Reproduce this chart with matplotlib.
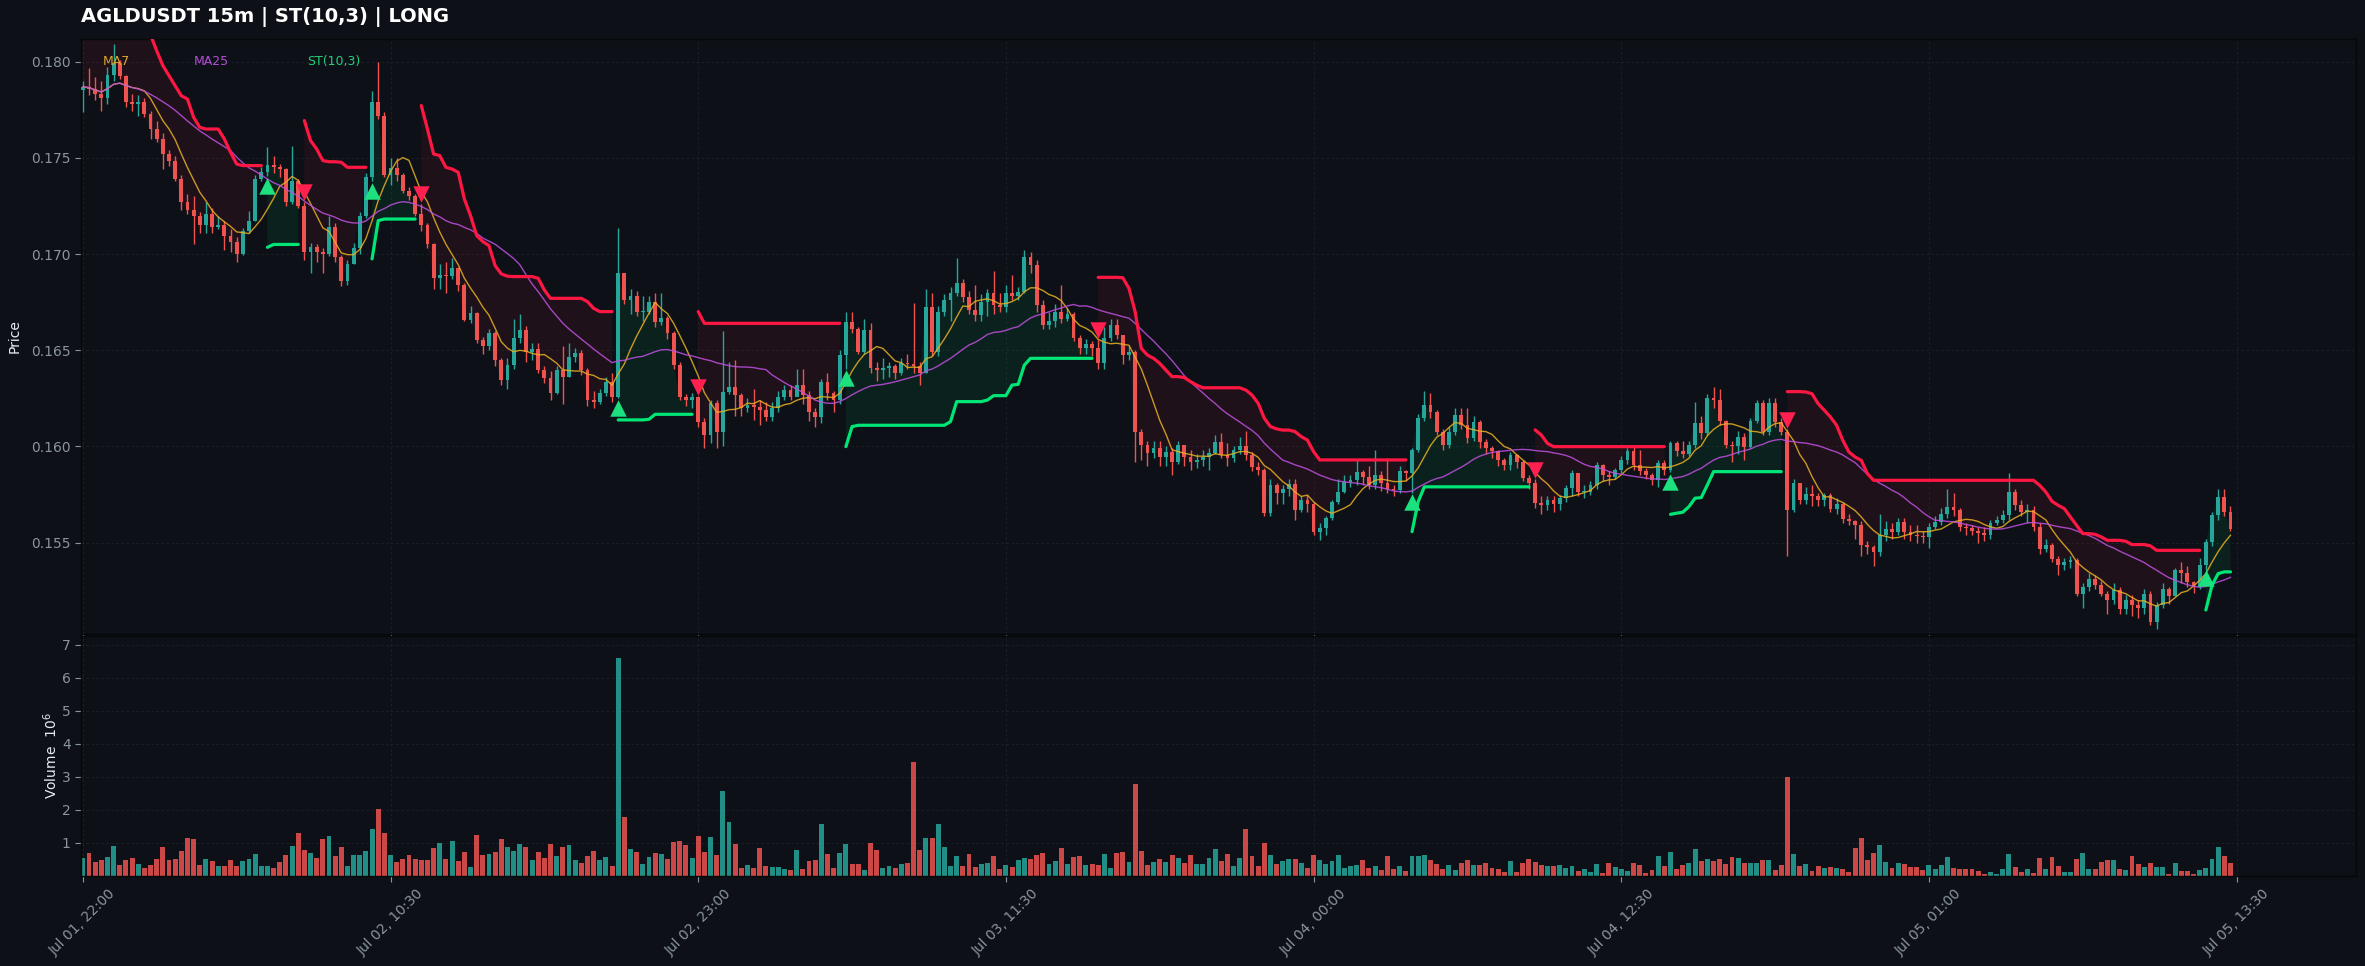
import numpy as np
import pandas as pd
import matplotlib
matplotlib.use("Agg")
import matplotlib.pyplot as plt
from matplotlib.ticker import FormatStrFormatter

TITLE = "AGLDUSDT 15m | ST(10,3) | LONG"
PRICE_UNIT = 1e-5  # prices below are stored in units of 0.00001 USDT

tick_positions = [0, 50, 100, 150, 200, 250, 300, 350]
tick_labels = ["Jul 01, 22:00", "Jul 02, 10:30", "Jul 02, 23:00", "Jul 03, 11:30",
               "Jul 04, 00:00", "Jul 04, 12:30", "Jul 05, 01:00", "Jul 05, 13:30"]

opens = [
    17855,17870,17860,17830,17810,17930,17995,17925,17790,17780,
    17792,17728,17650,17598,17520,17486,17390,17273,17230,17200,
    17150,17208,17139,17150,17096,17064,17000,17122,17174,17390,
    17425,17463,17455,17440,17270,17380,17250,17010,17035,17010,
    17000,17140,16985,16860,16950,17030,17200,17400,17790,17720,
    17410,17450,17410,17330,17300,17210,17150,17050,16874,16890,
    16885,16925,16840,16657,16692,16553,16520,16588,16450,16346,
    16425,16562,16605,16493,16505,16398,16355,16276,16397,16363,
    16467,16488,16398,16242,16230,16276,16337,16259,16900,16761,
    16780,16700,16700,16750,16649,16670,16588,16424,16259,16240,
    16256,16129,16060,16224,16077,16285,16307,16268,16198,16215,
    16206,16190,16155,16200,16259,16294,16259,16320,16268,16181,
    16155,16337,16276,16240,16476,16649,16610,16493,16606,16406,
    16395,16410,16420,16380,16432,16430,16420,16380,16727,16493,
    16700,16761,16800,16848,16779,16709,16683,16753,16796,16735,
    16727,16796,16780,16805,16986,16943,16735,16631,16650,16700,
    16660,16690,16562,16510,16530,16510,16432,16562,16631,16580,
    16475,16490,16077,16007,15965,15990,15947,15973,15921,16008,
    15947,15921,15930,15946,15964,16025,15955,15938,15982,16000,
    15955,15895,15877,15652,15800,15760,15777,15803,15670,15720,
    15700,15557,15577,15627,15712,15765,15817,15827,15869,15840,
    15800,15850,15808,15780,15775,15870,15860,15982,16147,16216,
    16181,16077,16008,16077,16164,16112,16042,16129,16025,15990,
    15975,15930,15905,15955,15920,15835,15809,15705,15695,15720,
    15700,15730,15783,15860,15762,15765,15800,15905,15852,15840,
    15875,15930,15975,15905,15870,15852,15825,15912,15878,16016,
    15975,15960,16005,16120,16070,16250,16240,16130,16008,16000,
    16050,15995,16130,16225,16077,16225,16129,16077,15670,15810,
    15722,15755,15740,15720,15745,15677,15700,15625,15612,15590,
    15486,15475,15452,15538,15573,15555,15607,15555,15540,15535,
    15530,15580,15607,15650,15685,15668,15581,15577,15560,15548,
    15540,15600,15617,15642,15763,15694,15660,15670,15582,15469,
    15487,15417,15382,15400,15410,15235,15270,15313,15280,15235,
    15200,15255,15157,15200,15175,15160,15235,15088,15175,15260,
    15225,15357,15340,15296,15270,15382,15504,15642,15738,15660,
]

highs = [
    17900,17965,17920,17900,17970,18090,18010,17930,17830,17825,
    17810,17745,17690,17630,17540,17510,17410,17310,17300,17220,
    17270,17240,17200,17170,17130,17090,17135,17225,17410,17455,
    17555,17510,17470,17450,17560,17390,17270,17060,17050,17030,
    17200,17160,16995,16970,17060,17220,17420,17850,18000,17740,
    17500,17500,17420,17350,17310,17260,17160,17060,16950,16960,
    16980,16935,16850,16730,16700,16570,16610,16600,16460,16460,
    16660,16690,16625,16540,16540,16420,16390,16420,16520,16540,
    16510,16500,16410,16290,16300,16360,16380,17134,16900,16820,
    16810,16780,16780,16800,16800,16680,16600,16440,16270,16280,
    16260,16150,16240,16240,16600,16440,16450,16280,16250,16300,
    16240,16230,16230,16290,16320,16320,16400,16400,16290,16200,
    16350,16380,16290,16500,16700,16700,16620,16660,16640,16440,
    16460,16440,16430,16460,16480,16745,16440,16820,16800,16730,
    16790,16830,16980,16870,16810,16840,16790,16820,16910,16800,
    16840,16890,16830,17020,17010,16970,16760,16700,16740,16840,
    16720,16700,16580,16560,16550,16555,16620,16660,16660,16580,
    16520,16500,16090,16030,16030,16030,16000,15990,16030,16010,
    15980,15960,15980,15990,16060,16070,16020,16000,16050,16080,
    15970,15920,15890,15830,15810,15800,15830,15830,15740,15750,
    15710,15600,15640,15720,15830,15850,15850,15930,15880,15900,
    15980,15870,15940,15800,15900,15880,15990,16170,16290,16280,
    16190,16090,16100,16200,16200,16200,16160,16140,16040,16000,
    15980,15940,15970,15960,15930,15850,15830,15740,15740,15740,
    15750,15800,15880,15860,15800,15820,15920,15910,15870,15890,
    15950,15990,16010,15980,15890,15860,15930,15930,16030,16030,
    16030,16030,16230,16160,16270,16310,16300,16140,16030,16080,
    16070,16150,16240,16240,16250,16250,16150,16090,15830,15810,
    15790,15800,15760,15760,15760,15730,15710,15650,15620,15610,
    15510,15490,15650,15610,15600,15630,15630,15590,15590,15560,
    15600,15640,15680,15780,15760,15680,15600,15590,15580,15580,
    15620,15640,15670,15860,15780,15720,15700,15690,15600,15520,
    15500,15430,15420,15430,15420,15290,15340,15330,15300,15250,
    15290,15270,15230,15230,15200,15260,15250,15190,15290,15270,
    15370,15400,15380,15300,15420,15520,15660,15780,15780,15690,
]

lows = [
    17740,17825,17800,17745,17780,17900,17910,17765,17745,17720,
    17710,17600,17580,17440,17460,17380,17230,17210,17050,17110,
    17110,17110,17130,17020,17010,16960,16995,17110,17170,17380,
    17408,17420,17400,17250,17260,17240,16970,16900,16960,16900,
    16990,16960,16835,16840,16950,17000,17190,17380,17700,17400,
    17360,17380,17320,17280,17200,17120,17030,16820,16820,16800,
    16870,16810,16650,16640,16540,16480,16500,16420,16320,16300,
    16400,16540,16440,16450,16380,16330,16240,16270,16220,16360,
    16440,16370,16210,16200,16220,16260,16230,16250,16740,16690,
    16680,16650,16690,16620,16630,16560,16400,16240,16210,16200,
    16100,15990,16020,15990,16000,16270,16160,16160,16180,16140,
    16110,16130,16130,16180,16240,16240,16260,16220,16130,16100,
    16120,16240,16180,16220,16405,16590,16480,16480,16380,16340,
    16350,16360,16350,16370,16400,16380,16320,16380,16470,16470,
    16680,16650,16780,16750,16690,16650,16650,16680,16690,16700,
    16700,16760,16760,16800,16900,16700,16610,16610,16620,16640,
    16650,16550,16480,16480,16470,16400,16400,16550,16560,16430,
    16450,15920,15930,15900,15940,15900,15900,15850,15910,15900,
    15880,15890,15900,15880,15960,15940,15900,15920,15960,15930,
    15870,15850,15640,15640,15700,15700,15740,15620,15660,15660,
    15540,15514,15540,15620,15700,15760,15790,15800,15800,15780,
    15780,15770,15760,15740,15760,15820,15760,15970,16130,16150,
    16060,15980,15990,16060,16090,16020,16030,15990,15960,15940,
    15900,15880,15880,15890,15820,15780,15680,15650,15670,15660,
    15670,15710,15740,15740,15730,15750,15780,15820,15800,15830,
    15860,15910,15880,15850,15830,15800,15790,15850,15865,15950,
    15940,15950,15990,16040,16060,16200,16110,15990,15920,15960,
    15930,15990,16120,16060,16060,16100,16060,15430,15660,15700,
    15700,15690,15690,15690,15660,15650,15600,15590,15520,15430,
    15440,15380,15430,15510,15520,15540,15520,15510,15500,15500,
    15470,15570,15590,15630,15640,15560,15540,15540,15500,15510,
    15520,15590,15600,15620,15670,15640,15600,15560,15440,15450,
    15400,15330,15360,15370,15220,15160,15250,15260,15220,15130,
    15180,15130,15130,15120,15110,15130,15070,15050,15160,15180,
    15220,15290,15270,15240,15260,15360,15480,15620,15640,15560,
]

closes = [
    17870,17860,17830,17810,17930,17995,17925,17790,17780,17792,
    17728,17650,17598,17520,17486,17390,17273,17230,17200,17150,
    17208,17139,17150,17096,17064,17000,17122,17174,17390,17425,
    17463,17455,17440,17270,17380,17250,17010,17035,17010,17000,
    17140,16985,16860,16950,17030,17200,17400,17790,17720,17410,
    17450,17410,17330,17300,17210,17150,17050,16874,16890,16885,
    16925,16840,16657,16692,16553,16520,16588,16450,16346,16425,
    16562,16605,16493,16505,16398,16355,16276,16397,16363,16467,
    16488,16398,16242,16230,16276,16337,16259,16900,16761,16780,
    16700,16700,16750,16649,16670,16588,16424,16259,16240,16256,
    16129,16060,16224,16077,16285,16307,16268,16198,16215,16206,
    16190,16155,16200,16259,16294,16259,16320,16268,16181,16155,
    16337,16276,16240,16476,16649,16610,16493,16606,16406,16395,
    16410,16420,16380,16432,16430,16420,16380,16727,16493,16700,
    16761,16800,16848,16779,16709,16683,16753,16796,16735,16727,
    16796,16780,16805,16986,16943,16735,16631,16650,16700,16660,
    16690,16562,16510,16530,16510,16432,16562,16631,16580,16475,
    16490,16077,16007,15965,15990,15947,15973,15921,16008,15947,
    15921,15930,15946,15964,16025,15955,15938,15982,16000,15955,
    15895,15877,15652,15800,15760,15777,15803,15670,15720,15700,
    15557,15577,15627,15712,15765,15817,15827,15869,15840,15800,
    15850,15808,15780,15775,15870,15860,15982,16147,16216,16181,
    16077,16008,16077,16164,16112,16042,16129,16025,15990,15975,
    15930,15905,15955,15920,15835,15809,15705,15695,15720,15700,
    15730,15783,15860,15762,15765,15800,15905,15852,15840,15875,
    15930,15975,15905,15870,15852,15825,15912,15878,16016,15975,
    15960,16005,16120,16070,16250,16240,16130,16008,16000,16050,
    15995,16130,16225,16077,16225,16129,16077,15670,15810,15722,
    15755,15740,15720,15745,15677,15700,15625,15612,15590,15486,
    15475,15452,15538,15573,15555,15607,15555,15540,15535,15530,
    15580,15607,15650,15685,15668,15581,15577,15560,15548,15540,
    15600,15617,15642,15763,15694,15660,15670,15582,15469,15487,
    15417,15382,15400,15410,15235,15270,15313,15280,15235,15200,
    15255,15157,15200,15175,15160,15235,15088,15175,15260,15225,
    15357,15340,15296,15270,15382,15504,15642,15738,15660,15573,
]

# SuperTrend(10,3) line as drawn (same price units)
supertrend = [
    18400,18400,18400,18380,18380,18360,18340,18320,18300,18260,
    18200,18140,18057,17980,17927,17875,17823,17806,17711,17659,
    17650,17650,17650,17598,17529,17468,17460,17460,17460,17460,
    17035,17050,17050,17050,17050,17050,17694,17590,17546,17486,
    17480,17480,17477,17451,17451,17451,17451,16975,17174,17182,
    17182,17182,17182,17182,17182,17772,17650,17520,17512,17451,
    17442,17425,17286,17200,17096,17065,17044,16940,16897,16885,
    16883,16883,16883,16883,16874,16813,16770,16770,16770,16770,
    16770,16770,16753,16718,16701,16701,16701,16138,16138,16138,
    16138,16138,16141,16167,16167,16167,16167,16167,16167,16167,
    16701,16640,16640,16640,16640,16640,16640,16640,16640,16640,
    16640,16640,16640,16640,16640,16640,16640,16640,16640,16640,
    16640,16640,16640,16640,15999,16103,16110,16110,16110,16110,
    16110,16110,16110,16110,16110,16110,16110,16110,16110,16110,
    16110,16129,16233,16233,16233,16233,16233,16241,16264,16264,
    16264,16319,16323,16423,16458,16458,16458,16458,16458,16458,
    16458,16458,16458,16458,16458,16879,16879,16879,16879,16877,
    16822,16701,16510,16475,16458,16432,16397,16363,16363,16358,
    16337,16319,16305,16305,16305,16305,16305,16305,16305,16293,
    16267,16224,16146,16103,16091,16085,16085,16077,16051,16033,
    15973,15930,15930,15930,15930,15930,15930,15930,15930,15930,
    15930,15930,15930,15930,15930,15930,15557,15713,15790,15790,
    15790,15790,15790,15790,15790,15790,15790,15790,15790,15790,
    15790,15790,15790,15790,15790,15790,16086,16060,16016,15999,
    15999,15999,15999,15999,15999,15999,15999,15999,15999,15999,
    15999,15999,15999,15999,15999,15999,15999,15999,15647,15653,
    15658,15687,15731,15734,15800,15869,15869,15869,15869,15869,
    15869,15869,15869,15869,15869,15869,15869,16285,16285,16285,
    16283,16274,16222,16188,16153,16110,16032,15971,15945,15928,
    15859,15824,15824,15824,15824,15824,15824,15824,15824,15824,
    15824,15824,15824,15824,15824,15824,15824,15824,15824,15824,
    15824,15824,15824,15824,15824,15824,15824,15824,15798,15763,
    15715,15694,15677,15633,15590,15547,15547,15543,15530,15512,
    15512,15512,15507,15490,15490,15490,15483,15460,15460,15460,
    15460,15460,15460,15460,15460,15150,15278,15339,15348,15348,
]

# volume in millions
volumes = [
    0.55,0.70,0.43,0.48,0.58,0.92,0.33,0.48,0.55,0.36,
    0.25,0.33,0.51,0.89,0.48,0.51,0.76,1.16,1.12,0.33,
    0.51,0.45,0.30,0.30,0.49,0.30,0.46,0.51,0.67,0.30,
    0.30,0.25,0.43,0.63,0.92,1.31,0.79,0.70,0.55,1.12,
    1.22,0.61,0.88,0.30,0.63,0.63,0.76,1.42,2.02,1.31,
    0.63,0.43,0.51,0.63,0.51,0.48,0.48,0.86,1.01,0.51,
    1.07,0.45,0.74,0.28,1.24,0.63,0.66,0.72,1.12,0.88,
    0.77,0.97,0.88,0.49,0.74,0.55,0.98,0.61,0.88,0.94,
    0.48,0.40,0.60,0.76,0.48,0.58,0.30,6.60,1.78,0.82,
    0.74,0.36,0.58,0.70,0.67,0.51,1.04,1.07,0.94,0.55,
    1.22,0.74,1.19,0.63,2.58,1.64,0.98,0.25,0.33,0.23,
    0.86,0.30,0.27,0.28,0.20,0.17,0.78,0.22,0.44,0.49,
    1.56,0.68,0.25,0.71,0.96,0.35,0.37,0.17,1.01,0.78,
    0.25,0.29,0.25,0.37,0.40,3.46,0.78,1.16,1.16,1.58,
    0.88,0.30,0.61,0.30,0.68,0.27,0.37,0.40,0.59,0.22,
    0.34,0.27,0.47,0.55,0.52,0.65,0.71,0.37,0.44,0.86,
    0.35,0.57,0.61,0.34,0.37,0.34,0.68,0.25,0.71,0.73,
    0.42,2.79,0.76,0.34,0.42,0.52,0.42,0.65,0.55,0.40,
    0.65,0.37,0.37,0.55,0.81,0.44,0.68,0.29,0.55,1.43,
    0.61,0.30,1.01,0.65,0.37,0.44,0.52,0.52,0.40,0.25,
    0.65,0.49,0.37,0.44,0.65,0.25,0.29,0.32,0.47,0.25,
    0.29,0.19,0.59,0.22,0.30,0.16,0.59,0.59,0.65,0.47,
    0.35,0.22,0.32,0.19,0.40,0.47,0.34,0.32,0.40,0.25,
    0.22,0.12,0.44,0.12,0.40,0.50,0.42,0.34,0.30,0.29,
    0.33,0.25,0.29,0.16,0.20,0.12,0.35,0.10,0.39,0.27,
    0.20,0.14,0.39,0.32,0.10,0.17,0.62,0.29,0.73,0.22,
    0.32,0.39,0.81,0.45,0.50,0.44,0.50,0.35,0.57,0.54,
    0.39,0.39,0.39,0.47,0.47,0.17,0.32,2.99,0.67,0.29,
    0.35,0.14,0.29,0.24,0.27,0.24,0.22,0.12,0.85,1.15,
    0.47,0.70,0.95,0.42,0.24,0.39,0.35,0.27,0.27,0.17,
    0.32,0.20,0.32,0.57,0.25,0.20,0.20,0.20,0.14,0.05,
    0.12,0.05,0.20,0.67,0.26,0.12,0.22,0.10,0.54,0.20,
    0.57,0.29,0.12,0.12,0.50,0.70,0.20,0.20,0.42,0.47,
    0.47,0.22,0.17,0.59,0.35,0.27,0.39,0.27,0.27,0.07,
    0.39,0.14,0.14,0.05,0.17,0.24,0.50,0.87,0.59,0.39,
]

# ---------------------------------------------------------------- styling
BG = "#0d1117"
UP_C = "#26a69a"
DN_C = "#ef5350"
ST_UP_C = "#00e676"
ST_DN_C = "#ff1744"
MA7_C = "#e8b023"
MA25_C = "#c050e0"
TXT = "#8b949e"

o = np.array(opens) * PRICE_UNIT
h = np.array(highs) * PRICE_UNIT
l = np.array(lows) * PRICE_UNIT
c = np.array(closes) * PRICE_UNIT
st = np.array(supertrend) * PRICE_UNIT
v = np.array(volumes)
n = len(c)
x = np.arange(n)

W, H = 2365, 966
fig = plt.figure(figsize=(W / 100, H / 100), dpi=100, facecolor=BG)
ax = fig.add_axes([81 / W, 1 - 634 / H, 2275 / W, 595 / H])
axv = fig.add_axes([81 / W, 1 - 876 / H, 2275 / W, 240 / H], sharex=ax)

for a in (ax, axv):
    a.set_facecolor(BG)
    for s in a.spines.values():
        s.set_color("#050709")
        s.set_linewidth(1.0)
    a.tick_params(colors=TXT, labelsize=10, length=4, width=0.8)
    a.grid(True, color="#8b949e", alpha=0.13, lw=0.6, ls=(0, (3, 3)))
    a.set_axisbelow(True)

is_up = c >= o
col = np.where(is_up, UP_C, DN_C)

# supertrend fills
trend_up = c > st
ax.fill_between(x, st, c, where=trend_up, color=ST_UP_C, alpha=0.08, lw=0, zorder=1)
ax.fill_between(x, st, c, where=~trend_up, color=ST_DN_C, alpha=0.08, lw=0, zorder=1)

# candles
ax.vlines(x, l, h, colors=col, lw=1.0, zorder=2)
body = np.maximum(np.abs(c - o), 0.00005)
ax.bar(x, body, bottom=np.minimum(o, c), width=0.62, color=col, lw=0, zorder=3)

# moving averages
ma7 = pd.Series(c).rolling(7, min_periods=1).mean()
ma25 = pd.Series(c).rolling(25, min_periods=1).mean()
ax.plot(x, ma7, color=MA7_C, lw=1.0, alpha=0.85, zorder=4)
ax.plot(x, ma25, color=MA25_C, lw=1.0, alpha=0.85, zorder=4)

# supertrend lines
ax.plot(x, np.where(trend_up, st, np.nan), color=ST_UP_C, lw=2.3, zorder=5,
        solid_capstyle="round")
ax.plot(x, np.where(~trend_up, st, np.nan), color=ST_DN_C, lw=2.3, zorder=5,
        solid_capstyle="round")

# signals
buy = np.where(trend_up[1:] & ~trend_up[:-1])[0] + 1
sell = np.where(~trend_up[1:] & trend_up[:-1])[0] + 1
ax.scatter(buy, l[buy] * 0.997, marker="^", s=140, color="#1de07f", lw=0, zorder=6)
ax.scatter(sell, h[sell] * 1.003, marker="v", s=140, color="#ff2050", lw=0, zorder=6)

# legend-like labels
ax.text(0.0097, 0.963, "MA7", color="#d9a82e", fontsize=9, transform=ax.transAxes, va="center")
ax.text(0.0497, 0.963, "MA25", color="#b44fd6", fontsize=9, transform=ax.transAxes, va="center")
ax.text(0.0993, 0.963, "ST(10,3)", color="#22cf78", fontsize=9, transform=ax.transAxes, va="center")

ax.set_xlim(-0.3, 369.4)
ax.set_ylim(0.15025, 0.18118)
ax.set_yticks([0.155, 0.160, 0.165, 0.170, 0.175, 0.180])
ax.yaxis.set_major_formatter(FormatStrFormatter("%.3f"))
ax.tick_params(labelbottom=False)
ax.set_ylabel("Price", color="#e6edf3", fontsize=10)
ax.yaxis.set_label_coords(-0.0259, 0.5)

# volume
axv.bar(x, v, width=0.8, color=col, alpha=0.85, lw=0)
axv.set_ylim(0, 7.26)
axv.set_yticks([1, 2, 3, 4, 5, 6, 7])
axv.set_xticks(tick_positions)
axv.set_xticklabels(tick_labels, rotation=45)
axv.set_ylabel("Volume  $10^{6}$", color="#e6edf3", fontsize=10)
axv.yaxis.set_label_coords(-0.0092, 0.5)

fig.text(81 / W, 1 - 17 / H, TITLE, color="white", fontsize=14, fontweight="bold",
         ha="left", va="center")

fig.savefig("out.png", dpi=100, facecolor=BG)
